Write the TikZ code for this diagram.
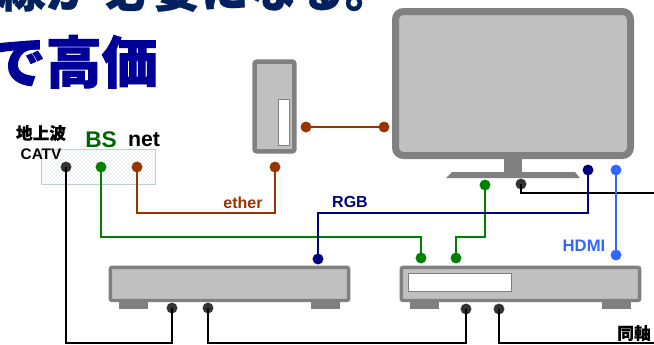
\documentclass[tikz,border=0pt]{standalone}
\usepackage{fontspec}
\setmainfont{Liberation Sans}
\newfontfamily\cjk{Noto Sans CJK JP}[BoldFeatures={FakeBold=0.6}]
\newfontfamily\cjkheavy{Noto Sans CJK JP}[BoldFeatures={FakeBold=1.6}]
\usepackage{xcolor}
\usetikzlibrary{patterns}
\definecolor{casegray}{RGB}{128,128,128}
\definecolor{panelgray}{RGB}{192,192,192}
\definecolor{brownwire}{RGB}{153,51,0}
\definecolor{greenwire}{RGB}{0,128,0}
\definecolor{navywire}{RGB}{0,0,128}
\definecolor{bluewire}{RGB}{51,102,255}
\definecolor{jackgray}{RGB}{51,51,51}
\definecolor{headnavy}{RGB}{0,32,96}
\definecolor{headblue}{RGB}{0,0,153}
\definecolor{panelline}{RGB}{190,202,218}

\begin{document}
\begin{tikzpicture}[x=0.75pt,y=-0.75pt,line cap=round,font=\bfseries,
  jack/.style={circle,inner sep=0pt,minimum size=8.2pt},
  wire/.style={line width=2.15pt,line cap=butt,sharp corners},
  device/.style={draw=casegray,fill=panelgray,rounded corners=1.5pt},
  slot/.style={draw=casegray,fill=white,line width=0.6pt},
  foot/.style={fill=casegray}]
\useasboundingbox (0,0) rectangle (654,344);
\clip (0,0) rectangle (654,344);
\node[anchor=base east,inner sep=0pt,text=headnavy,font=\cjk\bfseries\fontsize{36pt}{36pt}\selectfont] (headone) at (393,7) {配線が 必要になる。};
\node[anchor=base east,inner sep=0pt,text=headblue,font=\cjkheavy\bfseries\fontsize{42pt}{42pt}\selectfont] (headtwo) at (158,83) {で高価};
\draw[draw=panelline,pattern=crosshatch dots,pattern color=panelline] (41,149) rectangle (155,184);
\node[font=\cjk\bfseries\fontsize{12.5pt}{12.5pt}\selectfont] (ground) at (41,133) {地上波};
\node[font=\bfseries\fontsize{11.5pt}{11.5pt}\selectfont] (catv) at (41,154) {CATV};
\node[font=\bfseries\fontsize{17pt}{17pt}\selectfont,text=green!40!black] (bslabel) at (101,140) {BS};
\node[font=\bfseries\fontsize{16pt}{16pt}\selectfont] (netlabel) at (144,140) {net};
\draw[device,line width=5.25pt,rounded corners=6pt] (395.5,11.5) rectangle (630.5,155.5);
\fill[casegray] (504,157) rectangle (522,173);
\fill[casegray] (452,172) -- (575,172) -- (580,178) -- (446,178) -- cycle;
\draw[device,line width=3.4pt] (254.7,61.7) rectangle (294.3,151.3);
\draw[slot] (278.5,99.5) rectangle (289,145.5);
\fill[foot] (119,300) rectangle (148,309);
\fill[foot] (311,300) rectangle (340,309);
\draw[device,line width=2.6pt] (110.3,267.3) rectangle (348.7,300.5);
\fill[foot] (410,300) rectangle (439,309);
\fill[foot] (602,300) rectangle (631,309);
\draw[device,line width=2.6pt] (401.3,267.3) rectangle (639.7,300.5);
\draw[slot] (408.5,273.5) rectangle (511,291);
\node[jack,fill=jackgray] (catvin) at (66,167) {};
\node[jack,fill=greenwire] (bsin) at (101,167) {};
\node[jack,fill=brownwire] (netin) at (137,167) {};
\node[jack,fill=brownwire] (pcdown) at (275,167) {};
\node[jack,fill=brownwire] (pcside) at (306,127) {};
\node[jack,fill=brownwire] (tvside) at (384,127) {};
\node[jack,fill=greenwire] (tvgreen) at (485,185) {};
\node[jack,fill=jackgray] (tvcoax) at (521,184) {};
\node[jack,fill=navywire] (tvnavy) at (588,170) {};
\node[jack,fill=bluewire] (tvhdmi) at (616,170) {};
\node[jack,fill=navywire] (tunerrgb) at (318,259) {};
\node[jack,fill=jackgray] (tunerin) at (172,308) {};
\node[jack,fill=jackgray] (tunerout) at (208,308) {};
\node[jack,fill=greenwire] (recbs) at (421,258) {};
\node[jack,fill=greenwire] (recout) at (456,258) {};
\node[jack,fill=bluewire] (rechdmi) at (616,255) {};
\node[jack,fill=jackgray] (recin) at (466,309) {};
\node[jack,fill=jackgray] (recout2) at (499,309) {};
\coordinate (rightedge) at (654,193);
\coordinate (coaxedge) at (654,343);
\draw[wire,black] (catvin.center) -- ++(0,176) -| (tunerin.center);
\draw[wire,black] (tunerout.center) -- ++(0,35) -| (recin.center);
\draw[wire,black] (recout2.center) |- (coaxedge);
\draw[wire,black] (tvcoax.center) |- (rightedge);
\draw[wire,greenwire] (bsin.center) -- ++(0,70) -| (recbs.center);
\draw[wire,greenwire] (tvgreen.center) -- ++(0,52) -| (recout.center);
\draw[wire,navywire] (tvnavy.center) -- ++(0,43) -| (tunerrgb.center);
\draw[wire,brownwire] (netin.center) -- ++(0,46) -| (pcdown.center);
\draw[wire,brownwire] (pcside.center) -- (tvside.center);
\draw[wire,bluewire] (tvhdmi.center) -- (rechdmi.center);
\node[font=\bfseries\fontsize{12pt}{12pt}\selectfont,text=brownwire] (etherlabel) at (243,203) {ether};
\node[font=\bfseries\fontsize{12pt}{12pt}\selectfont,text=navywire] (rgblabel) at (350,202) {RGB};
\node[font=\bfseries\fontsize{12.5pt}{12.5pt}\selectfont,text=bluewire] (hdmilabel) at (584,246) {HDMI};
\node[font=\cjk\bfseries\fontsize{12.5pt}{12.5pt}\selectfont] (coaxlabel) at (634,333) {同軸};
\end{tikzpicture}
\end{document}
